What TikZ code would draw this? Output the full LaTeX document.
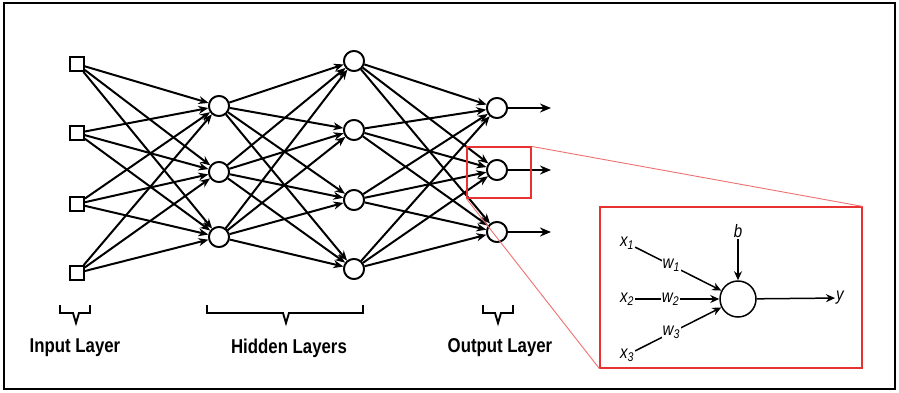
\documentclass[tikz,border=0pt]{standalone}
\usepackage{fontspec}
\usetikzlibrary{arrows.meta}
\newfontfamily\labfont[FakeStretch=0.84]{Liberation Sans}
\definecolor{zoomred}{RGB}{232,50,50}
\begin{document}
\begin{tikzpicture}[x=1pt,y=-1pt,
  inp/.style={draw,line width=1.8pt,minimum size=14pt,inner sep=0pt,fill=white},
  neu/.style={draw,circle,line width=1.8pt,minimum size=20pt,inner sep=0pt,fill=white},
  conn/.style={line width=2pt,-{Stealth[length=10pt,width=8pt]}},
  outarr/.style={line width=2.8pt,-{Stealth[length=11pt,width=9pt]}},
  brace/.style={line width=1.9pt,line join=miter},
  layerlab/.style={font=\labfont\bfseries\fontsize{20}{22}\selectfont,inner sep=0pt},
  zoombox/.style={draw=zoomred,line width=1.2pt,inner sep=0pt},
  zoomline/.style={draw=zoomred!70,line width=0.9pt},
  sym/.style={font=\labfont\itshape\fontsize{18}{20}\selectfont,inner sep=1pt},
  wlab/.style={font=\labfont\itshape\fontsize{18}{20}\selectfont,inner sep=1pt,fill=white},
  thin/.style={line width=1.5pt,-{Stealth[length=9pt,width=8pt]}}
]
\useasboundingbox (0,0) rectangle (899,392);
\draw[line width=2.5pt] (4,3) rectangle (895,389);

% input layer
\foreach \n/\y in {1/64,2/133,3/204,4/273}
  \node[inp] (i\n) at (77,\y) {};
% hidden layer 1
\foreach \n/\y in {1/106,2/172,3/237}
  \node[neu] (h\n) at (219,\y) {};
% hidden layer 2
\foreach \n/\y in {1/61,2/130,3/200,4/269}
  \node[neu] (g\n) at (354,\y) {};
% output layer
\foreach \n/\y in {1/108,2/170,3/232}
  \node[neu] (o\n) at (497,\y) {};

\foreach \a in {1,...,4}
  \foreach \b in {1,...,3}
    \draw[conn] (i\a) -- (h\b);
\foreach \a in {1,...,3}
  \foreach \b in {1,...,4}
    \draw[conn] (h\a) -- (g\b);
\foreach \a in {1,...,4}
  \foreach \b in {1,...,3}
    \draw[conn] (g\a) -- (o\b);

\foreach \n/\y in {1/108,2/170,3/232} {
  \coordinate (e\n) at (551,\y);
  \draw[outarr] (o\n) -- (e\n);
}

% redraw neurons on top
\foreach \n/\y in {1/106,2/172,3/237}
  \node[neu] at (219,\y) {};
\foreach \n/\y in {1/61,2/130,3/200,4/269}
  \node[neu] at (354,\y) {};
\foreach \n/\y in {1/108,2/170,3/232}
  \node[neu] at (497,\y) {};

% braces
\draw[brace] (60,305) -- (60,313) -- (73,313) -- (76,323) -- (79,313) -- (90,313) -- (90,305);
\draw[brace] (207,305) -- (207,313) -- (283,313) -- (286,323) -- (289,313) -- (363,313) -- (363,305);
\draw[brace] (483,305) -- (483,313) -- (495,313) -- (498,323) -- (501,313) -- (513,313) -- (513,305);

\node[layerlab] (linput) at (75,348) {Input Layer};
\node[layerlab] (lhidden) at (289,348) {Hidden Layers};
\node[layerlab] (loutput) at (500,348) {Output Layer};

% zoom boxes
\node[zoombox,minimum width=64pt,minimum height=51pt] (zsmall) at (499,172.5) {};
\node[zoombox,minimum width=262pt,minimum height=161pt] (zbig) at (731,287.5) {};
\draw[zoomline] (zsmall.north east) -- (zbig.north east);
\draw[zoomline] (zsmall.south west) -- (zbig.south west);

% single neuron
\node[draw,circle,line width=1.5pt,minimum size=36pt,inner sep=0pt] (c) at (738,299) {};
\node[sym] (x1) at (627,243) {x\textsubscript{1}};
\node[sym] (x2) at (627,299) {x\textsubscript{2}};
\node[sym] (x3) at (627,355) {x\textsubscript{3}};
\node[sym] (b) at (738,231) {b};
\node[sym] (y) at (840,298) {y};
\draw[thin] (x1) -- node[wlab,pos=0.42] (w1) {w\textsubscript{1}} (c);
\draw[thin] (x2) -- node[wlab,pos=0.42] (w2) {w\textsubscript{2}} (c);
\draw[thin] (x3) -- node[wlab,pos=0.42] (w3) {w\textsubscript{3}} (c);
\draw[thin] (b) -- (c);
\draw[thin] (c) -- (y);
\end{tikzpicture}
\end{document}
